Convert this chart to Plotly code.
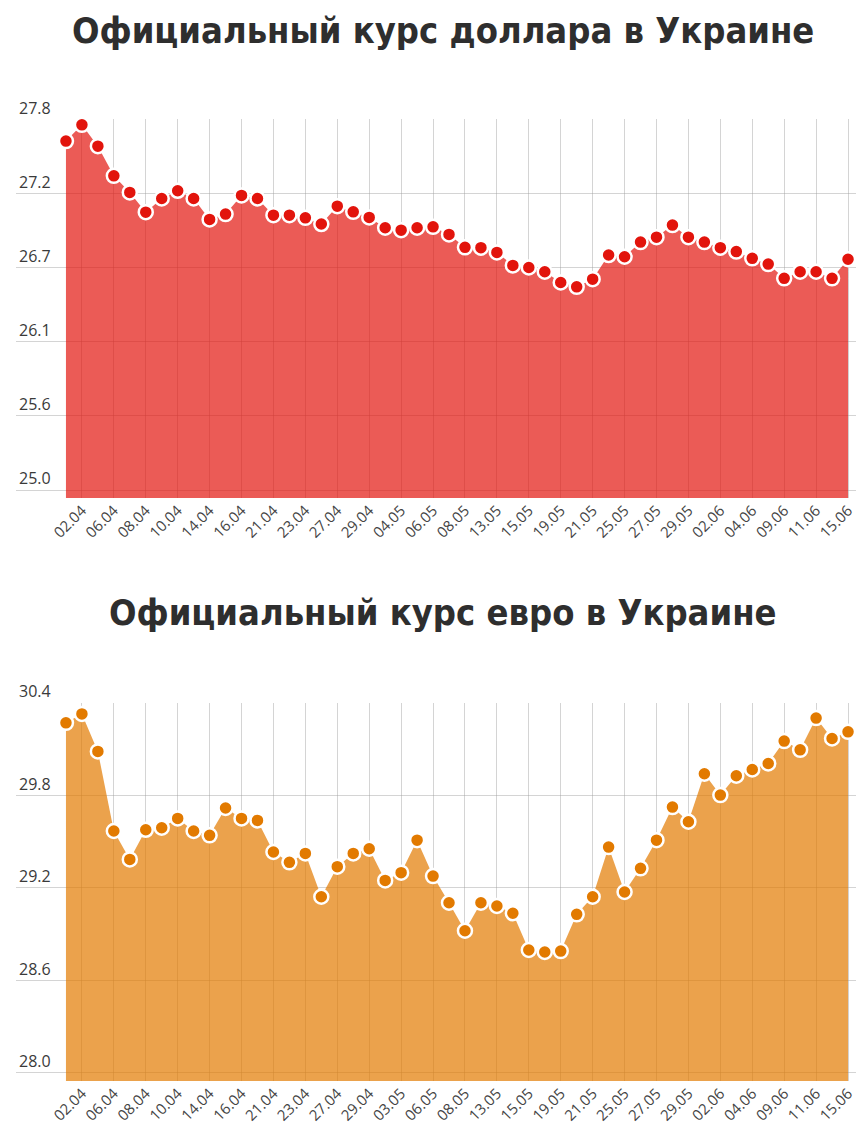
import plotly.graph_objects as go

# ---- data ----
usd_rate = [27.634, 27.757, 27.596, 27.372, 27.247, 27.098, 27.201, 27.259, 27.201, 27.043,
            27.083, 27.224, 27.201, 27.075, 27.075, 27.055, 27.008, 27.143, 27.100, 27.058,
            26.980, 26.962, 26.980, 26.987, 26.930, 26.832, 26.830, 26.794, 26.696, 26.680,
            26.648, 26.567, 26.534, 26.592, 26.774, 26.761, 26.872, 26.909, 27.000, 26.909,
            26.872, 26.830, 26.800, 26.749, 26.706, 26.598, 26.648, 26.648, 26.598, 26.742]

eur_rate = [30.269, 30.327, 30.084, 29.568, 29.384, 29.576, 29.589, 29.650, 29.568, 29.540,
            29.717, 29.650, 29.637, 29.432, 29.365, 29.423, 29.142, 29.337, 29.423, 29.453,
            29.248, 29.298, 29.509, 29.276, 29.103, 28.922, 29.103, 29.082, 29.035, 28.797,
            28.784, 28.790, 29.028, 29.142, 29.464, 29.173, 29.326, 29.509, 29.723, 29.628,
            29.939, 29.801, 29.926, 29.967, 30.006, 30.151, 30.094, 30.300, 30.168, 30.211]

usd_labels = ["02.04", "06.04", "08.04", "10.04", "14.04", "16.04", "21.04", "23.04", "27.04",
              "29.04", "04.05", "06.05", "08.05", "13.05", "15.05", "19.05", "21.05", "25.05",
              "27.05", "29.05", "02.06", "04.06", "09.06", "11.06", "15.06"]
eur_labels = ["02.04", "06.04", "08.04", "10.04", "14.04", "16.04", "21.04", "23.04", "27.04",
              "29.04", "03.05", "06.05", "08.05", "13.05", "15.05", "19.05", "21.05", "25.05",
              "27.05", "29.05", "02.06", "04.06", "09.06", "11.06", "15.06"]

usd_ticks = [25.0, 25.56, 26.12, 26.68, 27.24, 27.8]
usd_ticktext = ["25.0", "25.6", "26.1", "26.7", "27.2", "27.8"]
eur_ticks = [28.0, 28.6, 29.2, 29.8, 30.4]
eur_ticktext = ["28.0", "28.6", "29.2", "29.8", "30.4"]

titles = ["Официальный курс доллара в Украине", "Официальный курс евро в Украине"]

# ---- figure ----
W, H = 866, 1142
idx = list(range(len(usd_rate)))
label_pos = list(range(1, len(usd_rate), 2))

fig = go.Figure()
fig.add_trace(go.Scatter(
    x=idx, y=usd_rate, mode="lines+markers", fill="tozeroy",
    fillcolor="rgba(227,22,14,0.70)",
    line=dict(color="rgba(227,22,14,0.0)", width=0),
    marker=dict(size=14, color="#e2140c", line=dict(color="white", width=2.5)),
    xaxis="x", yaxis="y", showlegend=False, hoverinfo="x+y"))
fig.add_trace(go.Scatter(
    x=idx, y=eur_rate, mode="lines+markers", fill="tozeroy",
    fillcolor="rgba(226,122,0,0.70)",
    line=dict(color="rgba(226,122,0,0.0)", width=0),
    marker=dict(size=14, color="#e27a00", line=dict(color="white", width=2.5)),
    xaxis="x2", yaxis="y2", showlegend=False, hoverinfo="x+y"))

xr = [-3.13, 49.5]
xdom = [16 / W, 856 / W]
grid = "rgba(160,160,160,0.45)"

def xaxis_cfg(labels, anchor):
    return dict(domain=xdom, range=xr, anchor=anchor, tickmode="array",
                tickvals=label_pos, ticktext=labels, tickangle=-45,
                showgrid=True, gridcolor=grid, gridwidth=1, zeroline=False,
                showline=False, ticks="", fixedrange=True, automargin=False,
                tickfont=dict(family="Open Sans", size=15, color="#444"))

def yaxis_cfg(vals, text, rng, dom, anchor):
    return dict(domain=dom, range=rng, anchor=anchor, tickmode="array",
                tickvals=vals, ticktext=text, ticklabelposition="inside top",
                ticklabeloverflow="allow", automargin=False,
                showgrid=True, gridcolor=grid, gridwidth=1, zeroline=False,
                showline=False, ticks="", fixedrange=True,
                tickfont=dict(family="Open Sans", size=16, color="#3a3a3a"))

fig.update_layout(
    width=W, height=H, autosize=False,
    margin=dict(l=0, r=0, t=0, b=0, autoexpand=False),
    paper_bgcolor="white", plot_bgcolor="white",
    xaxis=xaxis_cfg(usd_labels, "y"),
    yaxis=yaxis_cfg(usd_ticks, usd_ticktext, [24.94, 27.801],
                    [1 - 498 / H, 1 - 119 / H], "x"),
    xaxis2=xaxis_cfg(eur_labels, "y2"),
    yaxis2=yaxis_cfg(eur_ticks, eur_ticktext, [27.948, 30.401],
                     [1 - 1081 / H, 1 - 702.5 / H], "x2"),
)

for t, ypx in zip(titles, [30, 612]):
    fig.add_annotation(text="<b>" + t + "</b>", x=443 / W, y=1 - ypx / H,
                       xref="paper", yref="paper", showarrow=False,
                       xanchor="center", yanchor="middle",
                       font=dict(family="DejaVu Sans Condensed, Roboto, sans-serif",
                                 size=36, color="#2e2e2e"))

fig.write_html("out.html")
